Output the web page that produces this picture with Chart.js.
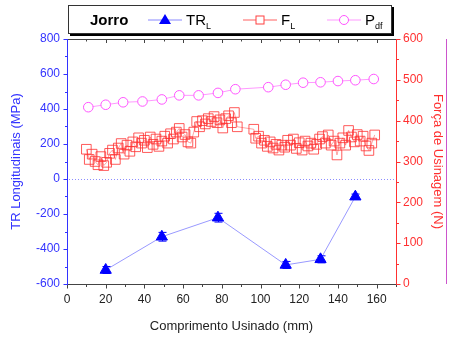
<!DOCTYPE html>
<html><head><meta charset="utf-8">
<script src="https://cdn.jsdelivr.net/npm/chart.js@4/dist/chart.umd.min.js"></script>
<style>
html,body{margin:0;padding:0;background:#fff;}
#wrap{position:relative;width:449px;height:338px;font-family:"Liberation Sans",Arial,sans-serif;}
canvas{position:absolute;left:0;top:0;}
#legend{position:absolute;left:68px;top:5px;width:322px;height:27px;border:1px solid #333;background:#fff;box-shadow:2px 2px 0 #000;}
#legend .it{position:absolute;top:0;height:27px;line-height:27px;font-size:15px;color:#000;}
#legend sub{font-size:9px;vertical-align:-4px;}
#legend svg{position:absolute;top:6px;}
</style>
</head><body>
<div id="wrap">
<canvas id="c" width="449" height="338"></canvas>
<div id="legend">
  <div class="it" style="left:21px;font-weight:bold;">Jorro</div>
  <svg style="left:79px" width="34" height="16"><line x1="0" y1="8" x2="34" y2="8" stroke="#8888ff" stroke-width="1"/><polygon points="17,2 23,12 11,12" fill="#0000ff"/></svg>
  <div class="it" style="left:117px;">TR<sub>L</sub></div>
  <svg style="left:174px" width="34" height="16"><line x1="0" y1="8" x2="34" y2="8" stroke="#ff6060" stroke-width="1"/><rect x="13" y="4" width="8" height="8" fill="#fff" stroke="#ff4040"/></svg>
  <div class="it" style="left:212px;">F<sub>L</sub></div>
  <svg style="left:258px" width="34" height="16"><line x1="0" y1="8" x2="34" y2="8" stroke="#ff99ff" stroke-width="1"/><circle cx="17" cy="8" r="4.5" fill="#fff" stroke="#ff55ff"/></svg>
  <div class="it" style="left:296px;">P<sub>df</sub></div>
</div>
</div>
<script>
// ---- data ----
const trX = [20, 49, 78, 113, 131, 149];
const trY = [-520, -330, -221, -491, -459, -101];
const trErr = [20, 25, 25, 20, 20, 15];

const pdfX = [11, 20, 29, 39, 49, 58, 68, 78, 87, 104, 113, 122, 131, 140, 149, 158.5];
const pdfY = [433, 439, 445, 447, 452, 462, 462, 468, 477, 482, 488, 493, 494, 497, 499, 502];

const fX = [10, 11.5, 13, 14.5, 16, 17.5, 19, 20.5, 22, 23.5, 25, 26.5, 28, 29.5, 31, 32.5, 34, 35.5, 37, 38.5,
  40, 41.5, 43, 44.5, 46, 47.5, 49, 50.5, 52, 53.5, 55, 56.5, 58, 59.5, 61, 62.5, 64, 65.5, 67, 68.5,
  70, 71.5, 73, 74.5, 76, 77.5, 79, 80.5, 82, 83.5, 85, 86.5, 88,
  96.5, 97.5, 99, 100.5, 102, 103.5, 105, 106.5, 108, 109.5, 111, 112.5, 114, 115.5, 117, 118.5,
  120, 121.5, 123, 124.5, 126, 127.5, 129, 130.5, 132, 133.5, 135, 136.5, 138, 139.5, 141, 142.5,
  144, 145.5, 147, 148.5, 150, 151.5, 153, 154.5, 156, 157.5, 159];
const fY = [330, 305, 318, 300, 292, 312, 290, 298, 320, 328, 305, 333, 344, 318, 340, 325, 348, 336, 358, 345,
  352, 334, 360, 342, 355, 337, 350, 362, 345, 368, 355, 372, 381, 360, 366, 348, 345, 372, 398, 385,
  400, 392, 405, 398, 410, 395, 402, 382, 405, 412, 395, 420, 385,
  379, 357, 362, 345, 352, 337, 348, 333, 342, 328, 340, 335, 352, 340, 355, 332,
  346, 328, 350, 338, 345, 330, 342, 355, 361, 345, 365, 340, 350, 316, 345, 358,
  340, 376, 360, 348, 366, 350, 362, 338, 327, 345, 365];

const xTicks = [0, 20, 40, 60, 80, 100, 120, 140, 160];
const yLeftTicks = [-600, -400, -200, 0, 200, 400, 600, 800];
const yRightTicks = [0, 100, 200, 300, 400, 500, 600];

function pts(xs, ys){ return xs.map((x,i)=>({x:x, y:ys[i]})); }

const FONT = "'Liberation Sans', Arial, sans-serif";
const AREA = {left:67, right:396, top:39, bottom:284};

const framePlugin = {
  id:'frame',
  beforeDatasetsDraw(chart){
    const ctx = chart.ctx, a = chart.chartArea, y = chart.scales.y;
    ctx.save();
    const y0 = Math.round(y.getPixelForValue(0));
    ctx.fillStyle = '#8c8cff';
    for (let px = a.left + 2; px < a.right; px += 3) ctx.fillRect(px, y0, 1, 1);
    ctx.restore();
  },
  afterDatasetsDraw(chart){
    const ctx = chart.ctx, a = chart.chartArea, x = chart.scales.x, y = chart.scales.y, y1 = chart.scales.y1;
    ctx.save();
    // error bars for TR
    ctx.strokeStyle = '#0000ff'; ctx.lineWidth = 1;
    trX.forEach((xv,i)=>{
      const px = Math.round(x.getPixelForValue(xv))+0.5;
      const top = y.getPixelForValue(trY[i]+trErr[i]);
      const bot = y.getPixelForValue(trY[i]-trErr[i]);
      ctx.beginPath();
      ctx.moveTo(px, top); ctx.lineTo(px, bot);
      ctx.moveTo(px-4, top); ctx.lineTo(px+4, top);
      ctx.moveTo(px-4, bot); ctx.lineTo(px+4, bot);
      ctx.stroke();
    });
    // frame
    ctx.lineWidth = 1;
    ctx.strokeStyle = '#444';
    ctx.beginPath(); ctx.moveTo(a.left, a.top+0.5); ctx.lineTo(a.right, a.top+0.5); ctx.stroke();
    ctx.beginPath(); ctx.moveTo(a.left, a.bottom+0.5); ctx.lineTo(a.right, a.bottom+0.5); ctx.stroke();
    for (let v=0; v<=170; v+=10){
      const px = Math.round(x.getPixelForValue(v))+0.5;
      const len = (v%20===0)?4:2.5;
      ctx.beginPath(); ctx.moveTo(px, a.top); ctx.lineTo(px, a.top+len); ctx.stroke();
      ctx.beginPath(); ctx.moveTo(px, a.bottom+0.5); ctx.lineTo(px, a.bottom+0.5+len); ctx.stroke();
    }
    ctx.strokeStyle = '#3333ff';
    ctx.beginPath(); ctx.moveTo(a.left+0.5, a.top); ctx.lineTo(a.left+0.5, a.bottom+1); ctx.stroke();
    for (let v=-600; v<=800; v+=100){
      const py = Math.round(y.getPixelForValue(v))+0.5;
      const len = (v%200===0)?4:2.5;
      ctx.beginPath(); ctx.moveTo(a.left+0.5, py); ctx.lineTo(a.left+0.5-len, py); ctx.stroke();
    }
    ctx.strokeStyle = '#ff3030';
    ctx.beginPath(); ctx.moveTo(a.right+0.5, a.top); ctx.lineTo(a.right+0.5, a.bottom+1); ctx.stroke();
    for (let v=0; v<=600; v+=50){
      const py = Math.round(y1.getPixelForValue(v))+0.5;
      const len = (v%100===0)?4:2.5;
      ctx.beginPath(); ctx.moveTo(a.right+0.5, py); ctx.lineTo(a.right+0.5+len, py); ctx.stroke();
    }
    ctx.strokeStyle = '#cc55cc';
    ctx.beginPath(); ctx.moveTo(446.5, a.top); ctx.lineTo(446.5, a.bottom); ctx.stroke();
    ctx.restore();
  }
};

new Chart(document.getElementById('c'), {
  type:'line',
  data:{
    datasets:[
      { label:'F_L', data:pts(fX,fY), yAxisID:'y1', borderColor:'rgba(255,90,90,0.55)', borderWidth:1,
        pointStyle:'rect', pointRadius:6.8, pointBorderColor:'rgba(255,50,50,0.8)', pointBackgroundColor:'rgba(255,255,255,0)', pointBorderWidth:1 },
      { label:'P_df', data:pts(pdfX,pdfY), yAxisID:'y1', borderColor:'#ff99ff', borderWidth:1,
        pointStyle:'circle', pointRadius:4.8, pointBorderColor:'#ff55ff', pointBackgroundColor:'#fff', pointBorderWidth:1 },
      { label:'TR_L', data:pts(trX,trY), yAxisID:'y', borderColor:'#9999ff', borderWidth:1,
        pointStyle:'triangle', pointRadius:6.5, pointBorderColor:'#0000ff', pointBackgroundColor:'#0000ff', pointBorderWidth:1 }
    ]
  },
  options:{
    responsive:false, animation:false,
    layout:{padding:{top:AREA.top, left:0, right:0, bottom:0}},
    plugins:{legend:{display:false}, tooltip:{enabled:false}},
    scales:{
      x:{ type:'linear', min:0, max:170, position:'bottom',
        afterBuildTicks(s){ s.ticks = xTicks.map(v=>({value:v})); },
        afterFit(s){ s.height = 338 - AREA.bottom; },
        grid:{display:false, drawTicks:false}, border:{display:false},
        ticks:{color:'#222', font:{family:FONT, size:12}, padding:8, maxRotation:0},
        title:{display:true, text:'Comprimento Usinado (mm)', color:'#222', font:{family:FONT, size:13}, padding:{top:3}} },
      y:{ type:'linear', min:-600, max:800, position:'left',
        afterBuildTicks(s){ s.ticks = yLeftTicks.map(v=>({value:v})); },
        afterFit(s){ s.width = AREA.left; },
        grid:{display:false, drawTicks:false}, border:{display:false},
        ticks:{color:'#3333ff', font:{family:FONT, size:12}, padding:7},
        title:{display:true, text:'TR Longitudinais (MPa)', color:'#3333ff', font:{family:FONT, size:13}, padding:{bottom:0, top:9}} },
      y1:{ type:'linear', min:0, max:600, position:'right',
        afterBuildTicks(s){ s.ticks = yRightTicks.map(v=>({value:v})); },
        afterFit(s){ s.width = 449 - AREA.right; },
        grid:{display:false, drawTicks:false}, border:{display:false},
        ticks:{color:'#ff3030', font:{family:FONT, size:12}, padding:7},
        title:{display:true, text:'Força de Usinagem (N)', color:'#ff3030', font:{family:FONT, size:13}, padding:{top:4,bottom:0}} }
    }
  },
  plugins:[framePlugin]
});
</script>
</body></html>
